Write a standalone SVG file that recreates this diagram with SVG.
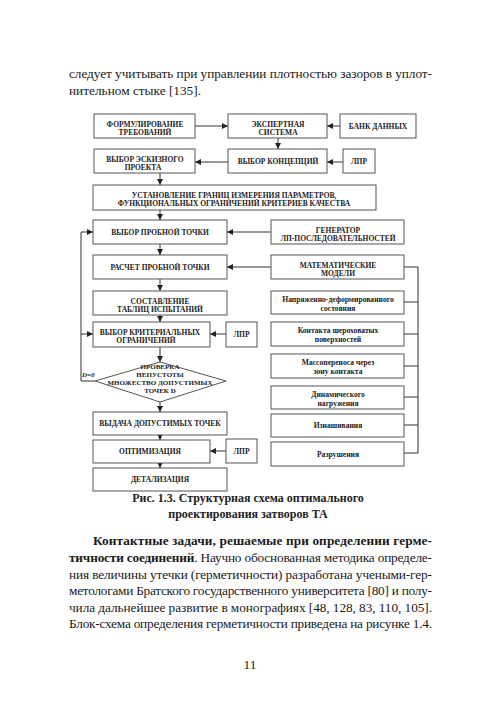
<svg xmlns="http://www.w3.org/2000/svg" width="500" height="708" viewBox="0 0 500 708">
<defs>
<marker id="ah" viewBox="0 0 10 10" refX="10" refY="5" markerWidth="6" markerHeight="6" orient="auto" markerUnits="userSpaceOnUse">
<path d="M0,0 L10,5 L0,10 z" fill="#222"/>
</marker>
</defs>
<style>
.b{fill:#fff;stroke:#555;stroke-width:1}
.t{font-family:"Liberation Serif","Times New Roman",serif;font-weight:bold;font-size:7.5px;fill:#222;text-anchor:middle}
.d{font-family:"Liberation Serif","Times New Roman",serif;font-weight:bold;font-size:7px;fill:#222;text-anchor:middle}
.s{font-family:"Liberation Serif","Times New Roman",serif;font-weight:bold;font-size:7.6px;fill:#222;text-anchor:middle}
.c{stroke:#333;stroke-width:1;fill:none}
.a{marker-end:url(#ah)}
.p{font-family:"Liberation Serif","Times New Roman",serif;font-size:13.3px;fill:#1a1a1a}
.cap{font-family:"Liberation Serif","Times New Roman",serif;font-weight:bold;font-size:12px;fill:#222;text-anchor:middle}
</style>
<rect width="500" height="708" fill="#fff"/>
<text class="p" x="69" y="78" textLength="363" lengthAdjust="spacing">следует учитывать при управлении плотностью зазоров в уплот-</text>
<text class="p" x="69" y="95">нительном стыке [135].</text>

<g id="connectors">
<path class="c a" d="M195,126 H228"/>
<path class="c a" d="M340,126 H327"/>
<path class="c a" d="M278,138 V149"/>
<path class="c a" d="M343,162 H327"/>
<path class="c a" d="M228,162 H195"/>
<path class="c a" d="M160,173 V185"/>
<path class="c a" d="M160,210 V220"/>
<path class="c a" d="M271,232 H227"/>
<path class="c a" d="M160,244 V255"/>
<path class="c a" d="M271,267 H227"/>
<path class="c a" d="M160,279 V291"/>
<path class="c a" d="M160,315 V322"/>
<path class="c a" d="M226,334 H210"/>
<path class="c a" d="M160,347 V362"/>
<path class="c a" d="M160,402 V412"/>
<path class="c a" d="M160,435 V440"/>
<path class="c a" d="M226,451 H210"/>
<path class="c a" d="M160,463 V468"/>
<path class="c" d="M95,381 H81 V232"/>
<path class="c a" d="M81,232 H93"/>
<path class="c a" d="M81,334 H93"/>
<path class="c" d="M404,267 H418 V453 H404 M404,302 H418 M404,334 H418 M404,366 H418 M404,397 H418 M404,425 H418"/>
</g>

<g id="n-formul"><rect class="b" x="94" y="114" width="101" height="24"/><text class="t" x="145" y="126.5">ФОРМУЛИРОВАНИЕ</text><text class="t" x="145" y="134.5">ТРЕБОВАНИЙ</text></g>
<g id="n-expert"><rect class="b" x="228" y="114" width="99" height="24"/><text class="t" x="278" y="126.5">ЭКСПЕРТНАЯ</text><text class="t" x="278" y="134.5">СИСТЕМА</text></g>
<g id="n-bank"><rect class="b" x="340" y="114" width="76" height="24"/><text class="t" x="378" y="129">БАНК ДАННЫХ</text></g>
<g id="n-eskiz"><rect class="b" x="94" y="149" width="101" height="24"/><text class="t" x="145" y="161.5">ВЫБОР ЭСКИЗНОГО</text><text class="t" x="143" y="169.5">ПРОЕКТА</text></g>
<g id="n-konc"><rect class="b" x="228" y="149" width="99" height="24"/><text class="t" x="278" y="164">ВЫБОР КОНЦЕПЦИЙ</text></g>
<g id="n-lpr1"><rect class="b" x="343" y="149" width="32" height="24"/><text class="t" x="359" y="164">ЛПР</text></g>
<g id="n-ustan"><rect class="b" x="93" y="185" width="283" height="25"/><text class="t" x="234" y="197.5">УСТАНОВЛЕНИЕ ГРАНИЦ ИЗМЕРЕНИЯ ПАРАМЕТРОВ,</text><text class="t" x="234" y="205.5">ФУНКЦИОНАЛЬНЫХ ОГРАНИЧЕНИЙ КРИТЕРИЕВ КАЧЕСТВА</text></g>
<g id="n-probn"><rect class="b" x="93" y="220" width="134" height="24"/><text class="t" x="160" y="235">ВЫБОР ПРОБНОЙ ТОЧКИ</text></g>
<g id="n-gen"><rect class="b" x="271" y="220" width="133" height="24"/><text class="t" x="338" y="232.5">ГЕНЕРАТОР</text><text class="t" x="338" y="240.5">ЛП-ПОСЛЕДОВАТЕЛЬНОСТЕЙ</text></g>
<g id="n-raschet"><rect class="b" x="93" y="255" width="134" height="24"/><text class="t" x="160" y="270">РАСЧЕТ ПРОБНОЙ ТОЧКИ</text></g>
<g id="n-mat"><rect class="b" x="271" y="255" width="133" height="24"/><text class="t" x="338" y="267.5">МАТЕМАТИЧЕСКИЕ</text><text class="t" x="338" y="275.5">МОДЕЛИ</text></g>
<g id="n-sost"><rect class="b" x="93" y="291" width="134" height="24"/><text class="t" x="160" y="303.5">СОСТАВЛЕНИЕ</text><text class="t" x="160" y="311.5">ТАБЛИЦ ИСПЫТАНИЙ</text></g>
<g id="n-krit"><rect class="b" x="93" y="322" width="117" height="25"/><text class="t" x="150" y="334.5">ВЫБОР КРИТЕРИАЛЬНЫХ</text><text class="t" x="146" y="342.5">ОГРАНИЧЕНИЙ</text></g>
<g id="n-lpr2"><rect class="b" x="226" y="322" width="31" height="25"/><text class="t" x="241.5" y="337">ЛПР</text></g>
<g id="n-prov"><polygon class="b" points="160,362 226,381 160,402 95,381"/><text class="d" x="160" y="369">ПРОВЕРКА</text><text class="d" x="160" y="377">НЕПУСТОТЫ</text><text class="d" x="160" y="385">МНОЖЕСТВО ДОПУСТИМЫХ</text><text class="d" x="160" y="393">ТОЧЕК D</text></g>
<text x="82" y="377" style="font-family:'Liberation Serif',serif;font-style:italic;font-weight:bold;font-size:7px;fill:#222">D=0</text>
<g id="n-vydacha"><rect class="b" x="93" y="412" width="134" height="23"/><text class="t" x="160" y="426">ВЫДАЧА ДОПУСТИМЫХ ТОЧЕК</text></g>
<g id="n-opt"><rect class="b" x="93" y="440" width="117" height="23"/><text class="t" x="150" y="454">ОПТИМИЗАЦИЯ</text></g>
<g id="n-lpr3"><rect class="b" x="226" y="439" width="31" height="24"/><text class="t" x="241.5" y="454">ЛПР</text></g>
<g id="n-detal"><rect class="b" x="93" y="468" width="134" height="23"/><text class="t" x="160" y="482">ДЕТАЛИЗАЦИЯ</text></g>
<g id="n-napr"><rect class="b" x="271" y="291" width="133" height="23"/><text class="s" x="338" y="302">Напряженно-деформированного</text><text class="s" x="338" y="310.5">состояния</text></g>
<g id="n-kont"><rect class="b" x="271" y="322" width="133" height="24"/><text class="s" x="338" y="333">Контакта шероховатых</text><text class="s" x="338" y="341.5">поверхностей</text></g>
<g id="n-mass"><rect class="b" x="271" y="354" width="133" height="24"/><text class="s" x="338" y="365">Массопереноса через</text><text class="s" x="338" y="373.5">зону контакта</text></g>
<g id="n-din"><rect class="b" x="271" y="386" width="133" height="23"/><text class="s" x="338" y="397">Динамического</text><text class="s" x="338" y="405.5">нагружения</text></g>
<g id="n-izn"><rect class="b" x="271" y="414" width="133" height="23"/><text class="s" x="338" y="428">Изнашивания</text></g>
<g id="n-razr"><rect class="b" x="271" y="442" width="133" height="24"/><text class="s" x="338" y="456.5">Разрушения</text></g>

<text class="cap" x="248" y="502">Рис. 1.3. Структурная схема оптимального</text>
<text class="cap" x="248" y="518">проектирования затворов ТА</text>

<text class="p" x="93" y="545" textLength="339" lengthAdjust="spacing" font-weight="bold">Контактные задачи, решаемые при определении герме-</text>
<text class="p" x="69" y="562" textLength="363" lengthAdjust="spacing"><tspan font-weight="bold">тичности соединений</tspan>. Научно обоснованная методика определе-</text>
<text class="p" x="69" y="579" textLength="363" lengthAdjust="spacing">ния величины утечки (герметичности) разработана учеными-гер-</text>
<text class="p" x="69" y="595" textLength="363" lengthAdjust="spacing">метологами Братского государственного университета [80] и полу-</text>
<text class="p" x="69" y="612" textLength="363" lengthAdjust="spacing">чила дальнейшее развитие в монографиях [48, 128, 83, 110, 105].</text>
<text class="p" x="69" y="628" textLength="363" lengthAdjust="spacing">Блок-схема определения герметичности приведена на рисунке 1.4.</text>
<text class="p" x="250" y="669" text-anchor="middle">11</text>
</svg>
